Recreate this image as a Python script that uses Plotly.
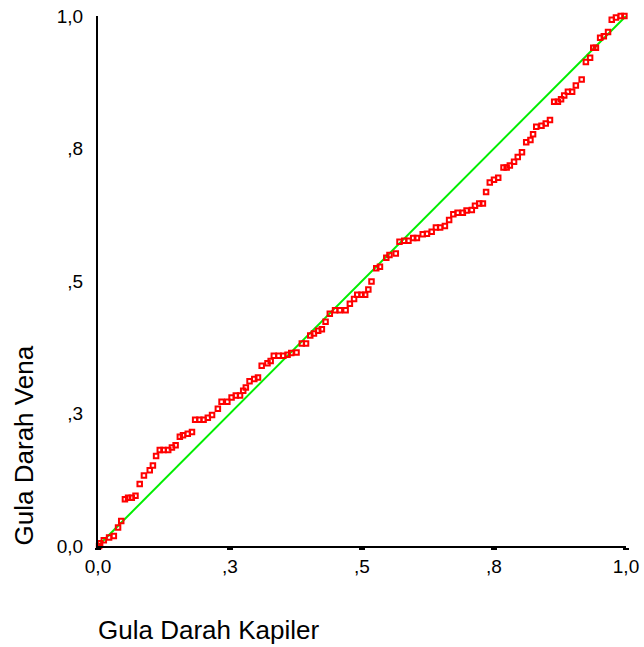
import plotly.graph_objects as go

# P-P plot: Gula Darah Kapiler vs Gula Darah Vena (cumulative proportions)
pp_x = [0.002, 0.004, 0.011, 0.021, 0.030, 0.038, 0.044, 0.051, 0.057, 0.064,
        0.071, 0.079, 0.087, 0.098, 0.104, 0.110, 0.117, 0.124, 0.133, 0.140,
        0.147, 0.155, 0.161, 0.170, 0.178, 0.184, 0.192, 0.200, 0.208, 0.216,
        0.227, 0.234, 0.245, 0.253, 0.261, 0.269, 0.275, 0.280, 0.287, 0.296,
        0.303, 0.310, 0.321, 0.327, 0.333, 0.342, 0.351, 0.359, 0.366, 0.376,
        0.386, 0.394, 0.402, 0.409, 0.417, 0.424, 0.431, 0.439, 0.449, 0.458,
        0.469, 0.477, 0.485, 0.491, 0.499, 0.506, 0.512, 0.518, 0.527, 0.534,
        0.546, 0.552, 0.564, 0.571, 0.580, 0.588, 0.597, 0.604, 0.615, 0.623,
        0.632, 0.640, 0.648, 0.657, 0.665, 0.673, 0.681, 0.691, 0.698, 0.708,
        0.714, 0.722, 0.729, 0.735, 0.742, 0.750, 0.758, 0.768, 0.774, 0.780,
        0.788, 0.795, 0.803, 0.811, 0.819, 0.824, 0.830, 0.840, 0.848, 0.856,
        0.864, 0.871, 0.877, 0.883, 0.890, 0.898, 0.905, 0.916, 0.924, 0.932,
        0.938, 0.943, 0.951, 0.958, 0.966, 0.973, 0.981, 0.990, 0.997]
pp_y = [0.000, 0.005, 0.011, 0.016, 0.019, 0.035, 0.047, 0.088, 0.091, 0.091,
        0.095, 0.117, 0.133, 0.143, 0.152, 0.170, 0.181, 0.181, 0.181, 0.186,
        0.190, 0.206, 0.209, 0.212, 0.215, 0.238, 0.238, 0.238, 0.242, 0.247,
        0.259, 0.272, 0.272, 0.280, 0.284, 0.284, 0.293, 0.299, 0.311, 0.315,
        0.318, 0.340, 0.345, 0.349, 0.359, 0.359, 0.359, 0.361, 0.364, 0.365,
        0.382, 0.382, 0.397, 0.401, 0.406, 0.409, 0.423, 0.438, 0.445, 0.445,
        0.445, 0.457, 0.466, 0.474, 0.474, 0.474, 0.484, 0.499, 0.524, 0.527,
        0.544, 0.549, 0.552, 0.574, 0.576, 0.576, 0.581, 0.581, 0.588, 0.589,
        0.593, 0.601, 0.601, 0.604, 0.615, 0.626, 0.629, 0.629, 0.633, 0.634,
        0.642, 0.646, 0.646, 0.668, 0.686, 0.691, 0.695, 0.714, 0.714, 0.718,
        0.725, 0.734, 0.743, 0.762, 0.766, 0.777, 0.791, 0.793, 0.797, 0.804,
        0.838, 0.838, 0.843, 0.850, 0.857, 0.857, 0.869, 0.880, 0.913, 0.921,
        0.940, 0.940, 0.959, 0.962, 0.970, 0.993, 0.997, 1.000, 1.000]

ref_x = [0, 1]
ref_y = [0, 1]

tick_vals = [0, 0.25, 0.5, 0.75, 1.0]
tick_text = ["0,0", ",3", ",5", ",8", "1,0"]

font_name = "Arial, Liberation Sans, sans-serif"

fig = go.Figure()

fig.add_trace(go.Scatter(
    x=ref_x, y=ref_y,
    mode='lines',
    line=dict(color='#00ee00', width=2),
    hoverinfo='skip',
    showlegend=False
))

fig.add_trace(go.Scatter(
    x=pp_x, y=pp_y,
    mode='markers',
    marker=dict(symbol='square-open', size=4.5, color='#ff0000',
                line=dict(color='#ff0000', width=2)),
    cliponaxis=False,
    showlegend=False
))

fig.update_xaxes(
    range=[0, 1],
    tickvals=tick_vals, ticktext=tick_text,
    showline=True, linecolor='black', linewidth=2,
    ticks='outside', ticklen=2, tickwidth=6, tickcolor='black',
    showgrid=False, zeroline=False,
    tickfont=dict(family=font_name, size=19, color='black'),
    ticklabeloverflow='allow',
    automargin=False
)
fig.update_yaxes(
    range=[0, 1],
    tickvals=tick_vals, ticktext=tick_text,
    showline=True, linecolor='black', linewidth=2,
    ticks='', ticklabelstandoff=9,
    showgrid=False, zeroline=False,
    tickfont=dict(family=font_name, size=19, color='black'),
    ticklabeloverflow='allow',
    automargin=False
)

fig.update_layout(
    width=644, height=647,
    margin=dict(l=98, r=18, t=16, b=101),
    plot_bgcolor='white', paper_bgcolor='white',
    font=dict(family=font_name, color='black'),
    annotations=[
        dict(text='Gula Darah Kapiler', xref='paper', yref='paper',
             x=0.210, y=-0.158, xanchor='center', yanchor='middle',
             showarrow=False, font=dict(size=26, color='black')),
        dict(text='Gula Darah Vena', xref='paper', yref='paper',
             x=-0.140, y=0.190, xanchor='center', yanchor='middle',
             textangle=-90, showarrow=False, font=dict(size=26, color='black')),
    ]
)

# drop the default 8px body margin so the figure fills the window exactly
fig.write_html("out.html", config={'displayModeBar': False},
               post_script="document.body.style.margin='0';")
